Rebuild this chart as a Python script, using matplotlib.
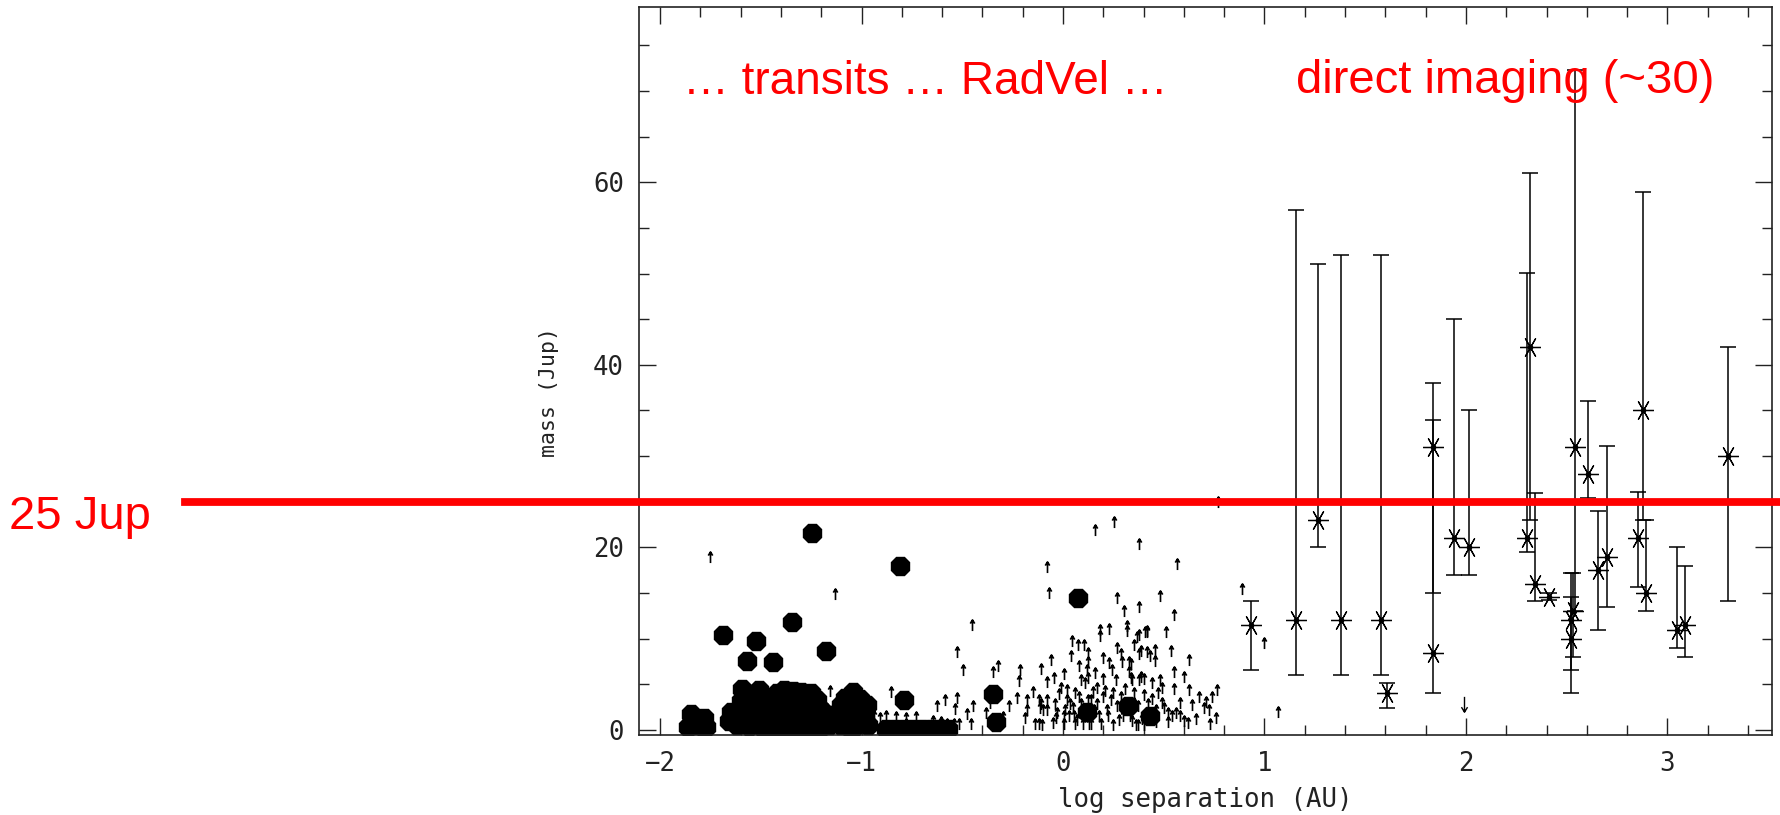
import numpy as np
import matplotlib.pyplot as plt
from matplotlib.path import Path
from matplotlib.ticker import MultipleLocator

# transiting planets (filled octagons), log a [AU] and mass [Jup]
dot_x = [-1.244, -0.809, -1.343, -1.687, -1.522, -1.174, -1.566, -1.439, -0.79, -0.347,
         -0.334, 0.076, 0.324, 0.43, 0.12,
         -1.848, -1.782, -1.86, -1.77, -1.81, -1.84, -1.79,
         -1.591, -1.509, -1.649, -1.55, -1.49, -1.56, -1.62, -1.50,
         -1.60, -1.52, -1.58, -1.52, -1.66,
         -1.42, -1.385, -1.34, -1.30, -1.25, -1.44, -1.40, -1.35, -1.30, -1.25, -1.21,
         -1.43, -1.38, -1.33, -1.28, -1.23, -1.18, -1.42, -1.36, -1.30, -1.24, -1.17,
         -1.46, -1.46, -1.45, -1.41, -1.37, -1.33, -1.29, -1.26, -1.22, -1.19, -1.16,
         -1.20, -1.27, -1.32, -1.37, -1.41, -1.34, -1.39, -1.28, -1.22, -1.47,
         -1.042, -1.103, -0.971, -1.06, -1.10, -1.03, -0.97, -1.0,
         -1.08, -1.01, -1.13, -0.99, -1.06,
         -0.88, -0.835, -0.79, -0.745, -0.70, -0.655, -0.61, -0.57]
dot_y = [21.6, 18.0, 11.8, 10.4, 9.7, 8.7, 7.6, 7.4, 3.3, 3.9,
         0.9, 14.5, 2.6, 1.5, 2.0,
         1.8, 1.3, 0.3, 0.3, 0.5, 0.9, 0.4,
         4.5, 4.4, 2.0, 2.2, 2.0, 0.4, 0.6, 0.4,
         3.2, 3.3, 1.2, 1.0, 1.0,
         4.0, 4.4, 4.3, 4.2, 4.0, 2.5, 2.8, 2.6, 2.8, 2.6, 2.4,
         1.0, 0.9, 1.0, 0.8, 0.9, 1.2, 0.2, 0.2, 0.2, 0.2, 1.6,
         3.5, 1.5, 0.3, 3.4, 3.6, 3.4, 3.5, 3.2, 3.3, 2.0, 0.5,
         0.3, 1.8, 1.9, 1.8, 1.9, 0.3, 0.4, 0.3, 1.4, 2.5,
         4.2, 2.7, 2.7, 2.0, 0.6, 0.4, 0.5, 1.0,
         3.5, 3.4, 1.6, 1.8, 0.3,
         0.1, 0.1, 0.1, 0.1, 0.1, 0.1, 0.1, 0.1]

# radial velocity planets (lower limits, drawn as up arrows)
rv_x = [-1.75, -1.13, -1.155, -0.855, -1.107, -0.94, -0.91, -0.88, -0.83, -0.78, -0.73,
        -0.645, -0.607, -0.577, -0.623, -0.586, -0.528, -0.536, -0.478, -0.445, -0.457,
        -0.54, -0.515, -0.78,
        -0.453, -0.525, -0.495, -0.346, -0.321, -0.213, -0.22, -0.109, -0.06, -0.081,
        -0.043, 0.007, -0.081, -0.07,
        -0.23, -0.18, -0.18, -0.19, -0.14, -0.12, -0.106, -0.12, -0.11, -0.10, -0.115,
        -0.08, -0.08, -0.04, -0.035, -0.03, 0.005, 0.005, 0.02, 0.035, 0.05, 0.055, 0.06,
        0.03, 0.01, 0.09, 0.105, 0.11, 0.13, 0.10, 0.125, 0.14, 0.155, 0.17, 0.18, 0.20,
        0.19, 0.14, 0.22, 0.225, 0.24, 0.29, 0.32, 0.335, 0.30,
        0.126, 0.126, 0.12, 0.126, 0.11, 0.2, 0.241, 0.2, 0.263, 0.29, 0.295, 0.336,
        0.336, 0.385, 0.418, 0.385, 0.043, 0.076, 0.106, 0.184, 0.228, 0.184, 0.32,
        0.318, 0.377, 0.418, 0.268, 0.301, 0.377,
        0.159, 0.255, 0.377, 0.565, 0.481, 0.552,
        0.369, 0.407, 0.415, 0.511, 0.378, 0.43, 0.457, 0.457, 0.534, 0.625, 0.33, 0.33,
        0.34, 0.378, 0.40, 0.443, 0.481, 0.49, 0.553, 0.627, 0.676, 0.738, 0.763, 0.70,
        0.725, 0.73, 0.76, 0.49, 0.50, 0.52, 0.54, 0.52, 0.56, 0.58, 0.60, 0.35, 0.37,
        0.32, 0.34, 0.36, 0.39, 0.37,
        0.02, 0.06, 0.08, 0.15, 0.17, 0.21, 0.25, 0.27, 0.28, 0.31, 0.35, 0.40, 0.42,
        0.44, 0.46, 0.46, 0.47, 0.40, 0.25, 0.07, -0.05, -0.02, -0.15, -0.27, -0.30,
        -0.38, -0.36, 0.09, 0.16, 0.23, 0.27, 0.35, 0.08, 0.04, -0.01, 0.55, 0.60, 0.64,
        0.66, 0.71, 0.58, 0.62,
        0.77, 0.886, 1.0, 1.068]
rv_y = [18.9, 14.9, 4.3, 4.2, 0.6, 1.5, 1.3, 1.5, 1.4, 1.3, 1.4,
        1.0, 0.9, 0.7, 2.6, 3.3, 3.5, 2.3, 1.8, 2.6, 0.7,
        0.7, 0.7, 0.7,
        11.5, 8.5, 6.6, 6.3, 7.0, 6.6, 5.4, 6.7, 7.7, 5.3,
        5.7, 6.1, 17.9, 15.0,
        3.5, 3.3, 2.2, 1.3, 0.7, 0.7, 0.55, 3.3, 2.9, 2.2, 2.4,
        3.3, 2.2, 2.8, 1.3, 1.9, 1.5, 0.7, 3.3, 2.9, 2.4, 1.5, 0.7,
        1.5, 2.2, 2.9, 2.2, 1.5, 0.7, 0.7, 3.3, 3.3, 2.2, 2.9, 1.5, 3.6,
        0.7, 0.7, 2.2, 1.5, 3.3, 3.6, 2.9, 1.5, 1.5,
        8.4, 7.4, 6.6, 5.7, 5.1, 7.9, 6.6, 5.6, 5.5, 8.3, 7.5, 7.2,
        5.7, 5.8, 8.5, 8.6, 9.7, 9.3, 9.3, 11.0, 11.1, 10.3, 11.4,
        10.9, 10.4, 10.8, 14.5, 13.0, 13.5,
        21.9, 22.8, 20.4, 18.2, 14.7, 12.6,
        10.2, 10.7, 10.7, 10.7, 8.3, 8.1, 8.8, 7.6, 8.6, 7.7, 7.5, 6.3,
        5.5, 5.5, 5.6, 5.2, 5.5, 4.6, 4.5, 4.4, 3.65, 3.65, 4.4, 2.4,
        2.2, 0.7, 1.3, 3.0, 2.4, 1.9, 1.5, 0.9, 1.9, 1.5, 1.0, 3.0, 2.6,
        2.2, 1.0, 0.5, 1.2, 0.6,
        4.4, 4.0, 3.6, 4.2, 4.6, 4.3, 4.0, 2.6, 1.1, 4.5, 4.1, 3.8, 2.8,
        3.4, 2.2, 0.9, 4.0, 0.6, 0.6, 1.1, 0.8, 3.9, 4.2, 2.6, 1.4,
        1.9, 3.0, 5.5, 6.2, 7.3, 9.0, 9.3, 7.0, 8.1, 4.6, 6.3, 5.8, 2.7,
        1.2, 3.1, 3.0, 0.8,
        25.0, 15.5, 9.5, 2.0]

# upper limit (down arrow)
ul_x = [1.99]
ul_y = [2.9]

# direct imaging detections with mass ranges
di_x = [0.935, 1.155, 1.267, 1.381, 1.578, 1.61, 1.834, 1.834, 1.942, 2.017,
        2.305, 2.318, 2.343, 2.41, 2.54, 2.53, 2.52, 2.52, 2.605, 2.653,
        2.70, 2.879, 2.854, 2.896, 3.048, 3.086, 3.30]
di_m = [11.5, 12.0, 23.0, 12.0, 12.0, 4.0, 31.0, 8.4, 21.0, 20.0,
        21.0, 42.0, 16.0, 14.6, 31.0, 13.0, 12.0, 10.0, 28.0, 17.5,
        19.0, 35.0, 21.0, 15.0, 11.0, 11.5, 30.0]
di_lo = [6.6, 6.0, 20.0, 6.0, 6.0, 2.4, 15.0, 4.0, 17.0, 17.0,
         19.5, 23.0, 14.1, 14.2, 13.0, 8.0, 6.6, 4.0, 25.4, 11.0,
         13.5, 23.0, 15.7, 13.0, 9.0, 8.0, 14.1]
di_hi = [14.1, 57.0, 51.0, 52.0, 52.0, 5.1, 38.0, 34.0, 45.0, 35.0,
         50.1, 61.0, 26.0, 15.0, 72.3, 17.2, 14.6, 17.2, 36.0, 24.0,
         31.1, 58.9, 26.1, 23.0, 20.0, 18.0, 42.0]

limit_mass = 25

W, H = 1781, 815
fig = plt.figure(figsize=(W / 100, H / 100), dpi=100)
ax = fig.add_axes([639.3 / W, 1 - 735.3 / H, (1772 - 639.3) / W, (735.3 - 7) / H])
ax.set_xlim(-2.103, 3.519)
ax.set_ylim(-0.58, 79.2)

up = Path([(0, -1), (0, 1), (-0.4, 0.35), (0, 1), (0.4, 0.35)],
          [Path.MOVETO, Path.LINETO, Path.MOVETO, Path.LINETO, Path.LINETO])
down = Path([(0, 1), (0, -1), (-0.4, -0.35), (0, -1), (0.4, -0.35)],
            [Path.MOVETO, Path.LINETO, Path.MOVETO, Path.LINETO, Path.LINETO])

ax.plot(dot_x, dot_y, ls='none', marker='8', ms=14, color='black', mec='black')
ax.plot(rv_x, rv_y, ls='none', marker=up, ms=8, mfc='none', mec='black', mew=1.2)
ax.plot(ul_x, ul_y, ls='none', marker=down, ms=11, mfc='none', mec='black', mew=1.0)

di_x = np.array(di_x)
di_m = np.array(di_m)
yerr = [di_m - np.array(di_lo), np.array(di_hi) - di_m]
ax.errorbar(di_x, di_m, yerr=yerr, fmt='none', ecolor='black', elinewidth=1.1,
            capsize=6, capthick=1.1)
ax.plot(di_x, di_m, ls='none', marker=(6, 2, 30), ms=15, mec='black', mew=0.9)
ax.plot(di_x, di_m, ls='none', marker='o', ms=3, color='black')

# 25 Jupiter-mass line, running out past the axes on the left
ax.axhline(limit_mass, xmin=(185 - 639.3) / 1132.7, xmax=1.01, color='red', lw=5.6,
           clip_on=False, zorder=6)

mono = 'DejaVu Sans Mono'
ax.xaxis.set_major_locator(MultipleLocator(1))
ax.xaxis.set_minor_locator(MultipleLocator(0.2))
ax.yaxis.set_major_locator(MultipleLocator(20))
ax.yaxis.set_minor_locator(MultipleLocator(5))
ax.tick_params(which='both', direction='in', top=True, right=True, width=1, color='#222222')
ax.tick_params(which='major', length=12, pad=11)
ax.tick_params(which='minor', length=7.5)
for lab in ax.get_xticklabels() + ax.get_yticklabels():
    lab.set_family(mono)
    lab.set_fontsize(18.5)
    lab.set_color('#222222')
for s in ax.spines.values():
    s.set_linewidth(1.2)
    s.set_color('#222222')

ax.set_xlabel('log separation (AU)', family=mono, fontsize=18.5, color='#222222')
ax.xaxis.set_label_coords(0.5, -0.071)
ax.set_ylabel('mass (Jup)', family=mono, fontsize=15.5, color='#222222')
ax.yaxis.label.set_va('center')
ax.yaxis.set_label_coords(-0.080, 0.471)

red = '#ff0000'
fig.text(925 / W, 1 - 94 / H, '\u2026 transits \u2026 RadVel \u2026', color=red,
         fontsize=33, family='Liberation Sans', ha='center', va='baseline')
fig.text(1296 / W, 1 - 93 / H, 'direct imaging (~30)', color=red,
         fontsize=34, family='Liberation Sans', ha='left', va='baseline')
fig.text(9 / W, 1 - 529 / H, '25 Jup', color=red,
         fontsize=34, family='Liberation Sans', ha='left', va='baseline')

fig.savefig('out.png', dpi=100, facecolor='white')
